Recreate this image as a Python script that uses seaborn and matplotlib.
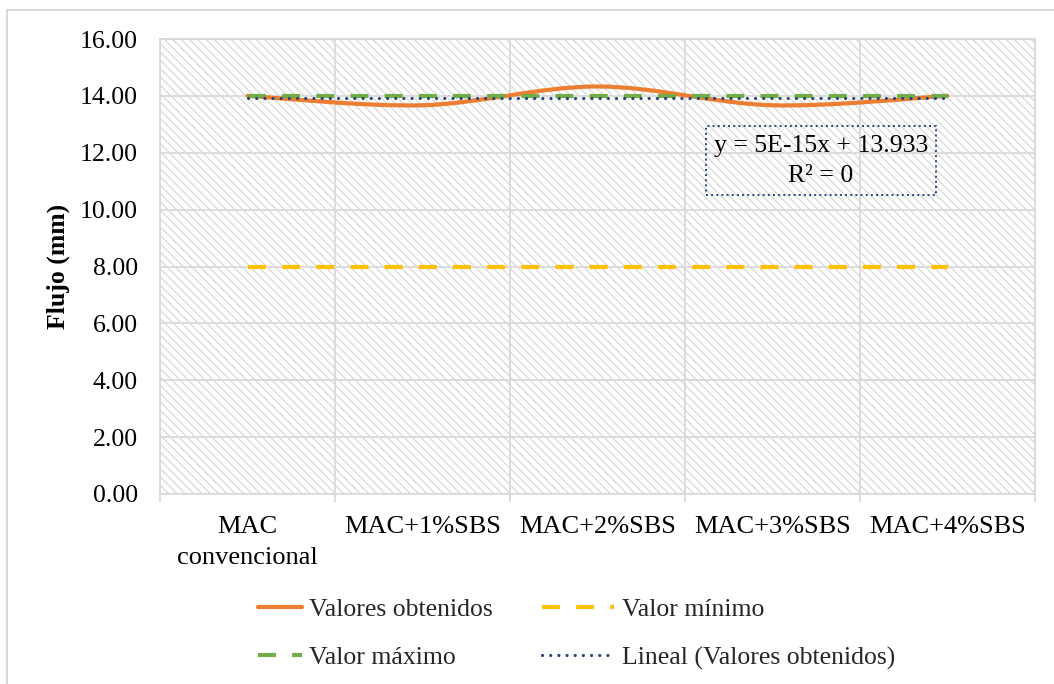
import numpy as np
import pandas as pd
import matplotlib
matplotlib.use("Agg")
import matplotlib.pyplot as plt
import seaborn as sns
from matplotlib.path import Path
from matplotlib.patches import PathPatch, Rectangle
from matplotlib.lines import Line2D

# ---- data ----
categorias = ["MAC\nconvencional", "MAC+1%SBS", "MAC+2%SBS", "MAC+3%SBS", "MAC+4%SBS"]
valores_obtenidos = [14.00, 13.67, 14.33, 13.67, 14.00]
valor_minimo = [8.00, 8.00, 8.00, 8.00, 8.00]
valor_maximo = [14.00, 14.00, 14.00, 14.00, 14.00]
y_ticks = [0, 2, 4, 6, 8, 10, 12, 14, 16]
ecuacion = "y = 5E-15x + 13.933\nR² = 0"

# ---- style ----
C_OBT = "#ED7D31"
C_MIN = "#FFC000"
C_MAX = "#70AD47"
C_LIN = "#264478"
C_GRID = "#d9d9d9"
FS = 18.5
DASH = (0, (4.3, 3.9))
DOT = (0, (0.01, 2.55))

sns.set_theme(style="white")
plt.rcParams["font.family"] = ["Liberation Serif", "DejaVu Serif"]
plt.rcParams["hatch.linewidth"] = 0.9

W, H = 1054, 684
fig = plt.figure(figsize=(W / 100, H / 100), dpi=100)
ax = fig.add_axes([160 / W, 1 - 494 / H, 875 / W, 455 / H])

# hatched plot-area background
ax.add_patch(Rectangle((0, 0), 1, 1, transform=ax.transAxes, facecolor="white",
                       edgecolor="#d8d8d8", hatch="\\\\\\\\", linewidth=0, zorder=0))

df = pd.DataFrame({
    "x": np.arange(len(categorias)),
    "obtenidos": valores_obtenidos,
    "minimo": valor_minimo,
    "maximo": valor_maximo,
})

# smoothed line through the measured values (cubic Bezier segments)
pts = df[["x", "obtenidos"]].to_numpy(dtype=float)
n = len(pts)
verts = [pts[0]]
codes = [Path.MOVETO]
for i in range(n - 1):
    p0 = pts[max(i - 1, 0)]
    p1 = pts[i]
    p2 = pts[i + 1]
    p3 = pts[min(i + 2, n - 1)]
    c1 = p1 + (p2 - p0) / 6.0
    c2 = p2 - (p3 - p1) / 6.0
    verts += [c1, c2, p2]
    codes += [Path.CURVE4] * 3
ax.add_patch(PathPatch(Path(verts, codes), facecolor="none", edgecolor=C_OBT,
                       lw=3.0, capstyle="round", zorder=2))

sns.lineplot(data=df, x="x", y="minimo", ax=ax, color=C_MIN, lw=3.0,
             linestyle=DASH, zorder=3)
sns.lineplot(data=df, x="x", y="maximo", ax=ax, color=C_MAX, lw=3.0,
             linestyle=DASH, zorder=4)
sns.regplot(data=df, x="x", y="obtenidos", ax=ax, scatter=False, ci=None,
            color=C_LIN, line_kws=dict(lw=2.3, linestyle=DOT,
                                       dash_capstyle="round", zorder=5))

# ---- axes ----
ax.set_xlim(-0.5, len(categorias) - 0.5)
ax.set_ylim(0, 16)
ax.set_xticks(df["x"])
ax.set_xticklabels(categorias, fontsize=FS + 0.5)
for lbl in ax.get_xticklabels():
    lbl.set_linespacing(1.55)
ax.set_xticks(np.arange(-0.5, len(categorias), 1.0), minor=True)
ax.set_yticks(y_ticks)
ax.set_yticklabels([f"{v:.2f}" for v in y_ticks], fontsize=FS)
ax.set_axisbelow(True)
ax.grid(which="major", axis="y", color=C_GRID, lw=1.3)
ax.grid(which="minor", axis="x", color=C_GRID, lw=1.3)
ax.grid(which="major", axis="x", visible=False)
ax.tick_params(axis="x", which="major", length=0, pad=15.5, colors="black")
ax.tick_params(axis="x", which="minor", length=6, width=1.3, color=C_GRID,
               direction="out", bottom=True)
ax.tick_params(axis="y", length=0, pad=16, colors="black")
for s in ax.spines.values():
    s.set_visible(True)
    s.set_color(C_GRID)
    s.set_linewidth(1.3)

ax.set_xlabel("")
ax.set_ylabel("Flujo (mm)", fontsize=FS, fontweight="bold", color="black")
ax.yaxis.set_label_coords(-0.103, 0.5)

# trendline equation box
ax.text(0.7554, 0.732, ecuacion, transform=ax.transAxes, ha="center",
        va="center", multialignment="center", fontsize=FS, color="black",
        linespacing=1.5, zorder=6,
        bbox=dict(boxstyle="square,pad=0.32", facecolor="none",
                  edgecolor=C_LIN, linestyle=":", lw=1.4))

# ---- legend (two columns) ----
h_obt = Line2D([], [], color=C_OBT, lw=3.0)
h_max = Line2D([], [], color=C_MAX, lw=3.0, linestyle=DASH)
h_min = Line2D([], [], color=C_MIN, lw=3.0, linestyle=DASH)
h_lin = Line2D([], [], color=C_LIN, lw=2.3, linestyle=DOT, dash_capstyle="round")
common = dict(loc="upper left", frameon=False, fontsize=FS, borderpad=0,
              borderaxespad=0, labelspacing=0.98, handletextpad=0.3)
fig.legend([h_obt, h_max], ["Valores obtenidos", "Valor máximo"],
           bbox_to_anchor=(258 / W, 1 - 598 / H), handlelength=1.7, **common)
fig.legend([h_min, h_lin], ["Valor mínimo", "Lineal (Valores obtenidos)"],
           bbox_to_anchor=(542 / W, 1 - 598 / H), handlelength=2.8, **common)

# outer chart border
fig.add_artist(Rectangle((7 / W, -0.02), 1.0, 1 - 10 / H + 0.02,
                         transform=fig.transFigure, fill=False,
                         edgecolor=C_GRID, lw=1.5))

fig.savefig("out.png", dpi=100)
